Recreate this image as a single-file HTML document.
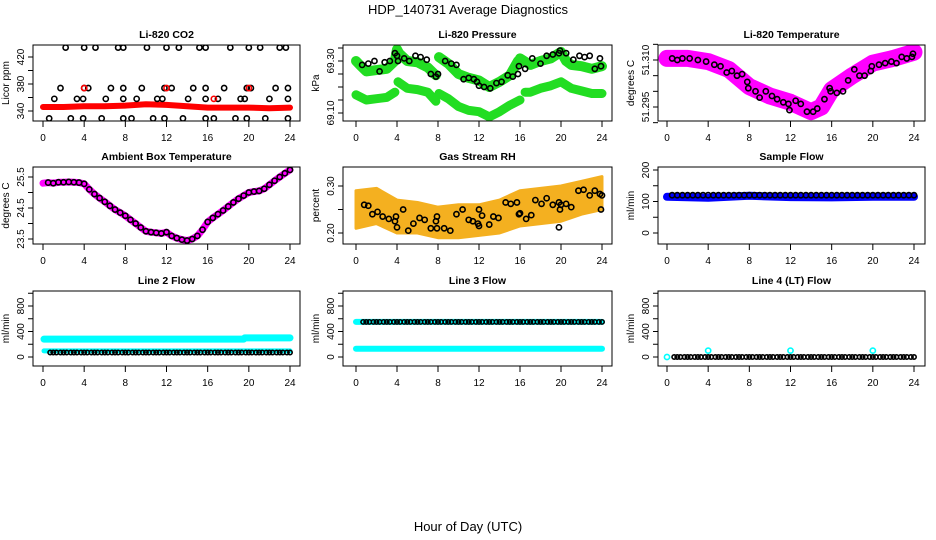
<!DOCTYPE html>
<html><head><meta charset="utf-8"><style>
html,body{margin:0;padding:0;background:#fff;}
svg{display:block;font-family:"Liberation Sans",sans-serif;}
</style></head><body>
<svg id="c" width="936" height="540" viewBox="0 0 936 540">
<text x="468" y="14" font-size="13" text-anchor="middle">HDP_140731  Average Diagnostics</text>
<text x="468" y="531" font-size="13" text-anchor="middle">Hour of Day (UTC)</text>
</svg>
<script>
// ---- data ----
const xTicks = [0,4,8,12,16,20,24];
// CO2
const co2LineH = [0,2,4,6,8,10,12,14,16,18,20,22,24];
const co2LineV = [346,346,347,347,348,350,349,347,345,345,345,344,345];
const co2TopH = [2.2,4,5.1,7.3,7.8,10.1,12,13.2,15.2,15.8,18.2,20,21.1,23,23.6];
const co2TopV = 434;
const co2MidH = [1.7,4,4.4,6.6,7.8,9.6,11.8,12.5,14.6,15.8,17.6,19.8,20.2,22.6,23.8];
const co2MidV = 374;
const co2LowH = [1.1,3.3,3.9,6.1,7.8,9.1,11.1,11.6,14.1,15.8,17,19.2,19.6,22,23.8];
const co2LowV = 358;
const co2BotH = [0.6,2.7,3.9,5.7,7.8,8.6,10.7,11.8,13.6,15.8,16.6,18.7,19.8,21.6,23.8];
const co2BotV = 329;
const co2RedH = [4,12,20,16.6];
const co2RedV = [374,374,374,358];
// Pressure
const presUpH = [0,0.5,1,2,3,3.8,4,4.2,5,6,7,7.8,null,8.1,9,10,11,12,13,14,15,15.8,null,16,17,18,19,20,20.5,21,22,23,24];
const presUpV = [69.30,69.28,69.26,69.265,69.27,69.30,69.345,69.33,69.30,69.295,69.275,69.245,null,69.315,69.29,69.25,69.235,69.225,69.20,69.22,69.245,69.30,null,69.31,69.285,69.30,69.31,69.335,69.30,69.285,69.28,69.27,69.28];
const presLowH = [0,1,2,3,3.8,null,4.1,5,6,7,7.8,null,8.1,9,10,11,12,13,14,15,16,null,16.5,17,18,19,20,21,22,23,24];
const presLowV = [69.17,69.15,69.155,69.16,69.18,null,69.22,69.195,69.19,69.18,69.145,null,69.175,69.155,69.125,69.11,69.105,69.085,69.105,69.13,69.15,null,69.18,69.18,69.195,69.205,69.22,69.195,69.185,69.175,69.175];
const presBlkH = [0.6,1.2,1.8,2.3,2.8,3.3,3.8,4.0,4.1,4.7,5.2,5.8,6.3,6.9,7.3,7.8,8,8.7,9.3,9.8,10.5,11,11.5,11.8,12,12.5,13.1,13.7,14.2,14.8,15.3,15.8,15.9,16.5,17.2,18,18.6,19.2,19.8,19.9,20.5,21.2,21.8,22.3,22.8,23.3,23.8,23.9];
const presBlkV = [69.285,69.29,69.30,69.26,69.295,69.30,69.33,69.32,69.30,69.31,69.30,69.32,69.315,69.305,69.25,69.24,69.25,69.30,69.29,69.285,69.23,69.235,69.23,69.22,69.205,69.20,69.195,69.215,69.22,69.245,69.24,69.25,69.28,69.27,69.31,69.29,69.32,69.325,69.33,69.34,69.33,69.305,69.32,69.315,69.32,69.27,69.31,69.28];
// Li-820 temperature
const tempH = [0,2,4,6,8,10,12,14,15,16,18,20,22,24];
const tempV = [51.3105,51.3105,51.3095,51.307,51.3015,51.2985,51.2965,51.2935,51.295,51.3005,51.305,51.309,51.3105,51.3125];
const tempBlkH = [0.5,1,1.5,2.2,3,3.8,4.6,5.2,5.8,6.3,6.8,7.3,7.8,7.9,8.6,9,9.6,10.2,10.7,11.3,11.8,11.9,12.5,13,13.6,14.2,14.6,15.3,15.8,15.9,16.5,17.1,17.6,18.2,18.7,19.2,19.8,19.9,20.6,21.2,21.8,22.3,22.8,23.3,23.8,23.9];
const tempBlkV = [51.3105,51.310,51.3105,51.3105,51.310,51.3095,51.3085,51.308,51.306,51.3065,51.305,51.3055,51.303,51.301,51.300,51.298,51.300,51.2985,51.2975,51.2965,51.296,51.294,51.297,51.296,51.2935,51.2935,51.2945,51.2975,51.301,51.300,51.2995,51.300,51.3035,51.307,51.305,51.305,51.3065,51.308,51.3085,51.309,51.3095,51.309,51.311,51.3105,51.311,51.312];
// Ambient box temperature
const ambH = [0,0.5,1,1.5,2,2.5,3,3.5,4,4.5,5,5.5,6,6.5,7,7.5,8,8.5,9,9.5,10,10.5,11,11.5,12,12.5,13,13.5,14,14.5,15,15.5,16,16.5,17,17.5,18,18.5,19,19.5,20,20.5,21,21.5,22,22.5,23,23.5,24];
const ambV = [25.3,25.32,25.3,25.33,25.33,25.34,25.33,25.32,25.28,25.1,24.95,24.82,24.7,24.57,24.45,24.35,24.25,24.12,24.0,23.87,23.75,23.72,23.7,23.68,23.72,23.6,23.53,23.48,23.45,23.5,23.6,23.8,24.05,24.18,24.3,24.42,24.55,24.68,24.8,24.9,25.0,25.03,25.05,25.12,25.25,25.38,25.5,25.62,25.73];
// Gas stream RH
const rhBandH = [0,2,4,6,8,10,12,14,16,18,20,22,24];
const rhLow = [0.21,0.22,0.20,0.20,0.19,0.19,0.195,0.20,0.215,0.22,0.225,0.24,0.25];
const rhHigh = [0.29,0.295,0.27,0.265,0.255,0.26,0.26,0.27,0.29,0.295,0.30,0.31,0.32];
const rhBlkH = [0.8,1.2,1.6,2.1,2.6,3.2,3.8,3.9,4,4.6,5.1,5.6,6.2,6.7,7.3,7.9,7.9,7.8,8.6,9.2,9.8,10.4,11,11.4,11.9,12,12,12.3,13,13.4,13.9,14.6,15.1,15.7,15.9,16,16.6,17.1,17.5,18.1,18.6,19.2,19.8,19.9,19.8,20,20.5,21,21.7,22.2,22.8,23.3,23.8,23.9,24];
const rhBlkV = [0.26,0.258,0.24,0.245,0.235,0.23,0.225,0.235,0.212,0.25,0.205,0.22,0.232,0.228,0.21,0.21,0.235,0.225,0.21,0.205,0.24,0.25,0.228,0.225,0.22,0.215,0.25,0.237,0.218,0.235,0.232,0.265,0.262,0.265,0.24,0.242,0.23,0.238,0.27,0.262,0.274,0.26,0.265,0.25,0.212,0.26,0.262,0.255,0.29,0.292,0.28,0.29,0.283,0.25,0.28];
// Flows
const flowH = [0.5,1,1.5,2,2.5,3,3.5,4,4.5,5,5.5,6,6.5,7,7.5,8,8.5,9,9.5,10,10.5,11,11.5,12,12.5,13,13.5,14,14.5,15,15.5,16,16.5,17,17.5,18,18.5,19,19.5,20,20.5,21,21.5,22,22.5,23,23.5,24];
const lineFlowH = [0.7,1,1.3,1.7,2,2.3,2.7,3,3.3,3.7,4,4.3,4.7,5,5.3,5.7,6,6.3,6.7,7,7.3,7.7,8,8.3,8.7,9,9.3,9.7,10,10.3,10.7,11,11.3,11.7,12,12.3,12.7,13,13.3,13.7,14,14.3,14.7,15,15.3,15.7,16,16.3,16.7,17,17.3,17.7,18,18.3,18.7,19,19.3,19.7,20,20.3,20.7,21,21.3,21.7,22,22.3,22.7,23,23.3,23.7,24];
const sampleBlueH = [0,4,8,12,16,20,24];
const sampleBlueV = [115,112,118,114,113,115,115];
const sampleBlkV = 120;
const l2CyanUpH = [0.1,19.5,null,19.6,24];
const l2CyanUpV = [280,280,null,300,300];
const l2CyanLowH = [0.1,24];
const l2CyanLowV = [95,95];
const l2BlkV = 70;
const l3CyanUpH = [0,24];
const l3CyanUpV = [550,550];
const l3CyanLowH = [0,24];
const l3CyanLowV = [130,130];
const l3BlkV = 550;
const l4BlkV = 0;
const l4CyanH = [0,4,12,20];
const l4CyanV = [0,100,100,100];

// ---- drawing ----
const svg = document.getElementById('c');
const NS = 'http://www.w3.org/2000/svg';
function mk(tag, attrs, parent){
  const e = document.createElementNS(NS, tag);
  for (const k in attrs) e.setAttribute(k, attrs[k]);
  (parent||svg).appendChild(e);
  return e;
}
function panel(cfg){
  const g = mk('g', {});
  
  
  const [L,T,R,B] = cfg.box;
  const xs = h => cfg.x0 + (cfg.x24 - cfg.x0) * h / 24;
  const ys = v => cfg.ya[1] + (cfg.yb[1] - cfg.ya[1]) * (v - cfg.ya[0]) / (cfg.yb[0] - cfg.ya[0]);
  const t = mk('text', {x:(L+R)/2, y:T-7, 'font-size':10.5, 'font-weight':'bold', 'text-anchor':'middle'}, g);
  t.textContent = cfg.title;
  
  
  const yt = mk('text', {x:0, y:0, 'font-size':10, 'text-anchor':'middle', transform:`translate(${L-24},${(T+B)/2}) rotate(-90)`}, g);
  yt.textContent = cfg.ylab;
  
  
  const clip = 'clip-' + cfg.name;
  const cp = mk('clipPath', {id:clip}, g);
  mk('rect', {x:L, y:T, width:R-L, height:B-T}, cp);
  const pg = mk('g', {'clip-path':`url(#${clip})`}, g);
  cfg.draw(pg, xs, ys);
  const box = mk('rect', {x:L, y:T, width:R-L, height:B-T, fill:'none', stroke:'#000', 'stroke-width':1}, g);
  
  
  xTicks.forEach(h => {
    mk('line', {x1:xs(h), x2:xs(h), y1:B, y2:B+6, stroke:'#000'}, g);
    const tl = mk('text', {x:xs(h), y:B+20, 'font-size':10, 'text-anchor':'middle'}, g);
    tl.textContent = h;
    
    
  });
  cfg.yticks.forEach(v => {
    mk('line', {x1:L-5, x2:L, y1:ys(v), y2:ys(v), stroke:'#000'}, g);
  });
  cfg.ylabels.forEach(v => {
    const tl = mk('text', {x:0, y:0, 'font-size':10, 'text-anchor':'middle', transform:`translate(${L-9},${ys(v)}) rotate(-90)`}, g);
    tl.textContent = cfg.fmt ? cfg.fmt(v) : v;
    
    
  });
}
function line(g, xs, ys, H, V, color, w, name){
  let d = '', pen = false;
  H.forEach((h,i) => {
    if (h === null) { pen = false; return; }
    d += (pen ? 'L' : 'M') + xs(h).toFixed(1) + ',' + ys(V[i]).toFixed(1);
    pen = true;
  });
  const p = mk('path', {d, fill:'none', stroke:color, 'stroke-width':w, 'stroke-linecap':'round', 'stroke-linejoin':'round'}, g);
  
  
}
function pts(g, xs, ys, H, V, color, name, r){
  H.forEach((h,i) => {
    const v = Array.isArray(V) ? V[i] : V;
    const c = mk('circle', {cx:xs(h), cy:ys(v), r:r||2.6, fill:'none', stroke:color, 'stroke-width':1.6}, g);
    
    
  });
}
function band(g, xs, ys, H, lo, hi, color, name){
  let d = '';
  H.forEach((h,i) => d += (i ? 'L' : 'M') + xs(h) + ',' + ys(hi[i]));
  for (let i = H.length-1; i >= 0; i--) d += 'L' + xs(H[i]) + ',' + ys(lo[i]);
  const p = mk('path', {d: d+'Z', fill:color, stroke:color, 'stroke-width':3, 'stroke-linejoin':'round'}, g);
  
  
}
const C1 = {L:33, R:300, x0:43, x24:290};
const C2 = {L:343, R:612, x0:356, x24:602};
const C3 = {L:658, R:925, x0:667, x24:914};
const R1 = [45,121], R2 = [167,244], R3 = [291,366];
function cfgBox(C, Rw){ return {box:[C.L,Rw[0],C.R,Rw[1]], x0:C.x0, x24:C.x24}; }

panel(Object.assign(cfgBox(C1,R1), {name:'panel-co2', title:'Li-820 CO2', ylab:'Licor ppm',
  ya:[340,111], yb:[420,57], yticks:[340,360,380,400,420], ylabels:[340,380,420],
  draw:(g,xs,ys)=>{
    line(g,xs,ys,co2LineH,co2LineV,'#ff0000',6,'co2-average-line');
    pts(g,xs,ys,co2TopH,co2TopV,'#000','co2-point');
    pts(g,xs,ys,co2MidH,co2MidV,'#000','co2-point');
    pts(g,xs,ys,co2LowH,co2LowV,'#000','co2-point');
    pts(g,xs,ys,co2BotH,co2BotV,'#000','co2-point');
    pts(g,xs,ys,co2RedH,co2RedV,'#ff0000','co2-red-point');
  }}));
panel(Object.assign(cfgBox(C2,R1), {name:'panel-pressure', title:'Li-820 Pressure', ylab:'kPa',
  ya:[69.10,113], yb:[69.30,61], yticks:[69.10,69.15,69.20,69.25,69.30,69.35], ylabels:[69.10,69.30], fmt:v=>v.toFixed(2),
  draw:(g,xs,ys)=>{
    line(g,xs,ys,presUpH,presUpV,'#22dd22',10,'pressure-upper-band');
    line(g,xs,ys,presLowH,presLowV,'#22dd22',9,'pressure-lower-band');
    pts(g,xs,ys,presBlkH,presBlkV,'#000','pressure-point');
  }}));
panel(Object.assign(cfgBox(C3,R1), {name:'panel-li820-temp', title:'Li-820 Temperature', ylab:'degrees C',
  ya:[51.295,107], yb:[51.310,60], yticks:[51.290,51.295,51.300,51.305,51.310,51.315], ylabels:[51.295,51.310], fmt:v=>v.toFixed(3),
  draw:(g,xs,ys)=>{
    line(g,xs,ys,tempH,tempV,'#ff00ff',17,'temp-band');
    pts(g,xs,ys,tempBlkH,tempBlkV,'#000','temp-point');
  }}));
panel(Object.assign(cfgBox(C1,R2), {name:'panel-ambient', title:'Ambient Box Temperature', ylab:'degrees C',
  ya:[23.5,239], yb:[25.5,177], yticks:[23.5,24,24.5,25,25.5], ylabels:[23.5,24.5,25.5], fmt:v=>v.toFixed(1),
  draw:(g,xs,ys)=>{
    line(g,xs,ys,ambH,ambV,'#ff00ff',7,'ambient-band');
    pts(g,xs,ys,ambH.slice(1),ambV.slice(1),'#000','ambient-point');
  }}));
panel(Object.assign(cfgBox(C2,R2), {name:'panel-rh', title:'Gas Stream RH', ylab:'percent',
  ya:[0.20,233], yb:[0.30,186], yticks:[0.20,0.25,0.30], ylabels:[0.20,0.30], fmt:v=>v.toFixed(2),
  draw:(g,xs,ys)=>{
    band(g,xs,ys,rhBandH,rhLow,rhHigh,'#f4b020','rh-band');
    pts(g,xs,ys,rhBlkH,rhBlkV,'#000','rh-point');
  }}));
panel(Object.assign(cfgBox(C3,R2), {name:'panel-sample-flow', title:'Sample Flow', ylab:'ml/min',
  ya:[0,233], yb:[200,170], yticks:[0,50,100,150,200], ylabels:[0,100,200],
  draw:(g,xs,ys)=>{
    line(g,xs,ys,sampleBlueH,sampleBlueV,'#0000ff',8,'sample-flow-band');
    pts(g,xs,ys,flowH,sampleBlkV,'#000','sample-flow-point');
  }}));
const flowTicks = [0,200,400,600,800,1000];
panel(Object.assign(cfgBox(C1,R3), {name:'panel-line2', title:'Line 2 Flow', ylab:'ml/min',
  ya:[0,357], yb:[800,306], yticks:flowTicks, ylabels:[0,400,800],
  draw:(g,xs,ys)=>{
    line(g,xs,ys,l2CyanUpH,l2CyanUpV,'#00ffff',7,'line2-cyan-upper');
    line(g,xs,ys,l2CyanLowH,l2CyanLowV,'#00ffff',5,'line2-cyan-lower');
    pts(g,xs,ys,lineFlowH,l2BlkV,'#000','line2-point',2.2);
  }}));
panel(Object.assign(cfgBox(C2,R3), {name:'panel-line3', title:'Line 3 Flow', ylab:'ml/min',
  ya:[0,357], yb:[800,306], yticks:flowTicks, ylabels:[0,400,800],
  draw:(g,xs,ys)=>{
    line(g,xs,ys,l3CyanUpH,l3CyanUpV,'#00ffff',6,'line3-cyan-upper');
    line(g,xs,ys,l3CyanLowH,l3CyanLowV,'#00ffff',6,'line3-cyan-lower');
    pts(g,xs,ys,lineFlowH,l3BlkV,'#000','line3-point',2.2);
  }}));
panel(Object.assign(cfgBox(C3,R3), {name:'panel-line4', title:'Line 4 (LT) Flow', ylab:'ml/min',
  ya:[0,357], yb:[800,306], yticks:flowTicks, ylabels:[0,400,800],
  draw:(g,xs,ys)=>{
    pts(g,xs,ys,lineFlowH,l4BlkV,'#000','line4-point',2.2);
    pts(g,xs,ys,l4CyanH,l4CyanV,'#00ffff','line4-cyan-point');
  }}));
</script>
</body></html>
